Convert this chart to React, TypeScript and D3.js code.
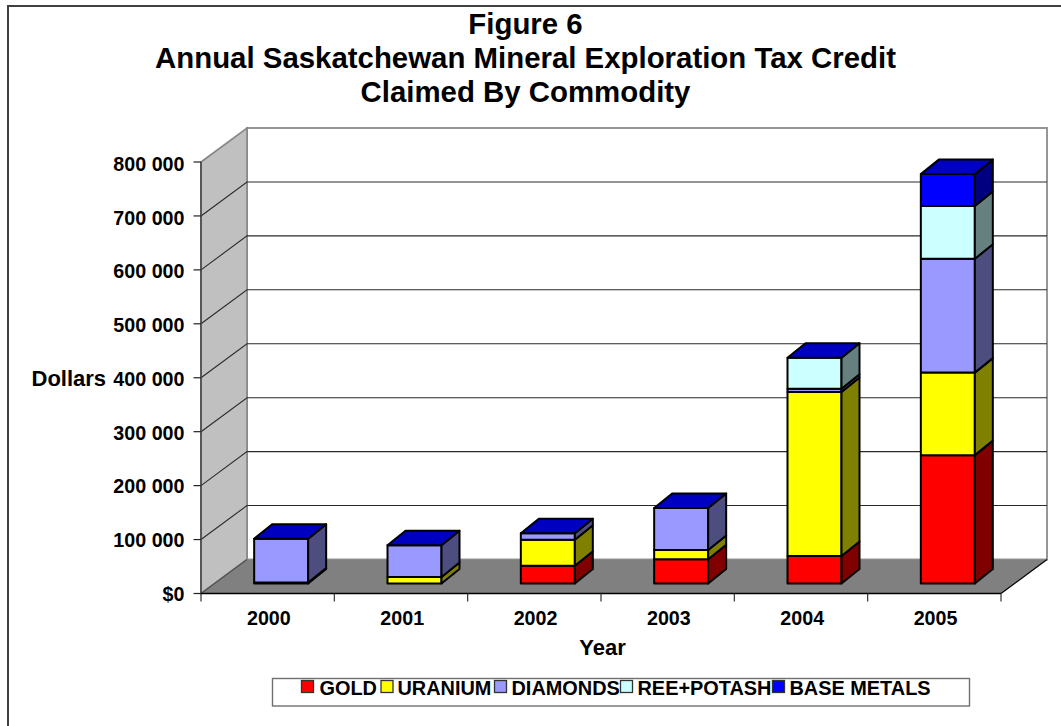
import React from "react";
import * as d3 from "d3";

const years = ["2000", "2001", "2002", "2003", "2004", "2005"];
const seriesNames = ["GOLD", "URANIUM", "DIAMONDS", "REE+POTASH", "BASE METALS"];
const gold = [0, 0, 33000, 45000, 51000, 238000];
const uranium = [2000, 12000, 48000, 17000, 304000, 153000];
const diamonds = [81000, 59000, 12000, 78000, 6000, 211000];
const reePotash = [0, 0, 0, 0, 57500, 98000];
const baseMetals = [0, 0, 0, 0, 0, 59000];
const yTicks = [0, 100000, 200000, 300000, 400000, 500000, 600000, 700000, 800000];
const titleLines = ["Figure 6", "Annual Saskatchewan Mineral Exploration Tax Credit", "Claimed By Commodity"];
const frontColors = ["#ff0000", "#ffff00", "#9999ff", "#ccffff", "#0000ff"];
const sideColors = ["#800000", "#808000", "#4d4d80", "#668080", "#000080"];
const topColor = "#0000c0";
const legendSwatchX = [301.5, 381, 494.5, 620.5, 772.5];
const legendTextX = [319.5, 397.5, 511.5, 637.5, 789.5];

const FONT = "'Liberation Sans', Arial, sans-serif";
const values = [gold, uranium, diamonds, reePotash, baseMetals];

export default function App() {
  const x = d3.scaleBand().domain(years).range([201, 1001]);
  const y = d3.scaleLinear().domain([0, 800000]).range([593.5, 162]);
  const labelY = d3.scaleLinear().domain([0, 800000]).range([600.6, 171]);
  const wallDx = 46, wallDy = -34;
  const barDx = 18, barDy = -14.5;
  const barOffX = 13.5, barOffY = -10;
  const barW = 54;
  const fmt = (v: number) => (v === 0 ? "$0" : d3.format(",")(v).replace(/,/g, " "));

  const y0 = y(0), yT = y(800000);
  const stack = d3.stack<number>().keys(seriesNames.map((_, i) => i) as any)
    .value((i: number, k: any) => values[k][i])(years.map((_, i) => i));

  const bars: React.ReactNode[] = [];
  years.forEach((yr, i) => {
    const bx = (x(yr) as number) + (x.bandwidth() - barW) / 2 + barOffX;
    const xL = bx, xR = bx + barW;
    const segs = stack.map((s, k) => ({ k, a: s[i][0], b: s[i][1] })).filter((d) => d.b > d.a);
    segs.forEach((d) => {
      const yb = y(d.a) + barOffY, yt = y(d.b) + barOffY;
      bars.push(
        <g key={yr + d.k} stroke="#000" strokeWidth={2} strokeLinejoin="round">
          <rect x={xL} y={yt} width={barW} height={yb - yt} fill={frontColors[d.k]} />
          <path d={`M${xR},${yb}L${xR + barDx},${yb + barDy}L${xR + barDx},${yt + barDy}L${xR},${yt}Z`} fill={sideColors[d.k]} />
        </g>
      );
    });
    const last = segs[segs.length - 1];
    const yt = y(last.b) + barOffY;
    bars.push(
      <path key={yr + "top"} stroke="#000" strokeWidth={2} strokeLinejoin="round"
        d={`M${xL},${yt}L${xL + barDx},${yt + barDy}L${xR + barDx},${yt + barDy}L${xR},${yt}Z`}
        fill={topColor} />
    );
  });

  return (
    <svg width={1061} height={726} style={{ position: "absolute", left: 0, top: 0, background: "#fff" }} fontFamily={FONT}>
      <rect x={8} y={6} width={1070} height={740} fill="#fff" stroke="#404040" strokeWidth={2} />
      {titleLines.map((t, i) => (
        <text key={t} x={525.5} y={34.3 + i * 34} textAnchor="middle" fontWeight="bold" fontSize={29.4}>{t}</text>
      ))}
      {/* back wall */}
      <rect x={201 + wallDx} y={yT + wallDy} width={800} height={y0 - yT} fill="#fff" stroke="#969696" strokeWidth={2} />
      {/* side wall */}
      <path d={`M201,${y0}L${201 + wallDx},${y0 + wallDy}L${201 + wallDx},${yT + wallDy}L201,${yT}Z`} fill="#c0c0c0" stroke="#868686" strokeWidth={1.6} />
      {/* floor */}
      <path d={`M201,${y0}L${201 + wallDx},${y0 + wallDy}L${1001 + wallDx},${y0 + wallDy}L1001,${y0}Z`} fill="#808080" />
      <path d={`M201,${y0}L${201 + wallDx},${y0 + wallDy}`} fill="none" stroke="#505050" strokeWidth={1.2} />
      <path d={`M1001,${y0}L${1001 + wallDx},${y0 + wallDy}`} fill="none" stroke="#000" strokeWidth={1.2} />
      {yTicks.slice(1, -1).map((v) => (
        <path key={v} d={`M201,${y(v)}L${201 + wallDx},${y(v) + wallDy}L${1001 + wallDx},${y(v) + wallDy}`} fill="none" stroke="#2a2a2a" strokeWidth={1.1} />
      ))}
      {/* axes */}
      <line x1={201} x2={201} y1={yT} y2={y0} stroke="#484848" strokeWidth={1.6} />
      <line x1={201} x2={1001} y1={y0} y2={y0} stroke="#000" strokeWidth={1.3} />
      {yTicks.map((v) => (
        <g key={v}>
          <line x1={193.5} x2={201} y1={y(v)} y2={y(v)} stroke="#222" strokeWidth={1.2} />
          <text x={184.5} y={labelY(v)} textAnchor="end" fontWeight="bold" fontSize={19.7}>{fmt(v)}</text>
        </g>
      ))}
      {[...years.map((yr) => x(yr) as number), 1001].map((v) => (
        <line key={v} x1={v} x2={v} y1={y0} y2={y0 + 8} stroke="#333" strokeWidth={1.2} />
      ))}
      {years.map((yr) => (
        <text key={yr} x={(x(yr) as number) + x.bandwidth() / 2 + 1.2} y={624.5} textAnchor="middle" fontWeight="bold" fontSize={19.7}>{yr}</text>
      ))}
      {bars}
      <text x={31.5} y={386} fontWeight="bold" fontSize={22}>Dollars</text>
      <text x={602.5} y={655} textAnchor="middle" fontWeight="bold" fontSize={22}>Year</text>
      {/* legend */}
      <rect x={272.5} y={678.5} width={697} height={27.5} fill="#fff" stroke="#707070" strokeWidth={1.4} />
      {seriesNames.map((n, i) => (
        <g key={n}>
          <rect x={legendSwatchX[i]} y={680.5} width={12} height={12} fill={frontColors[i]} stroke="#333" strokeWidth={1.3} />
          <text x={legendTextX[i]} y={695} fontWeight="bold" fontSize={19.9}>{n}</text>
        </g>
      ))}
    </svg>
  );
}
